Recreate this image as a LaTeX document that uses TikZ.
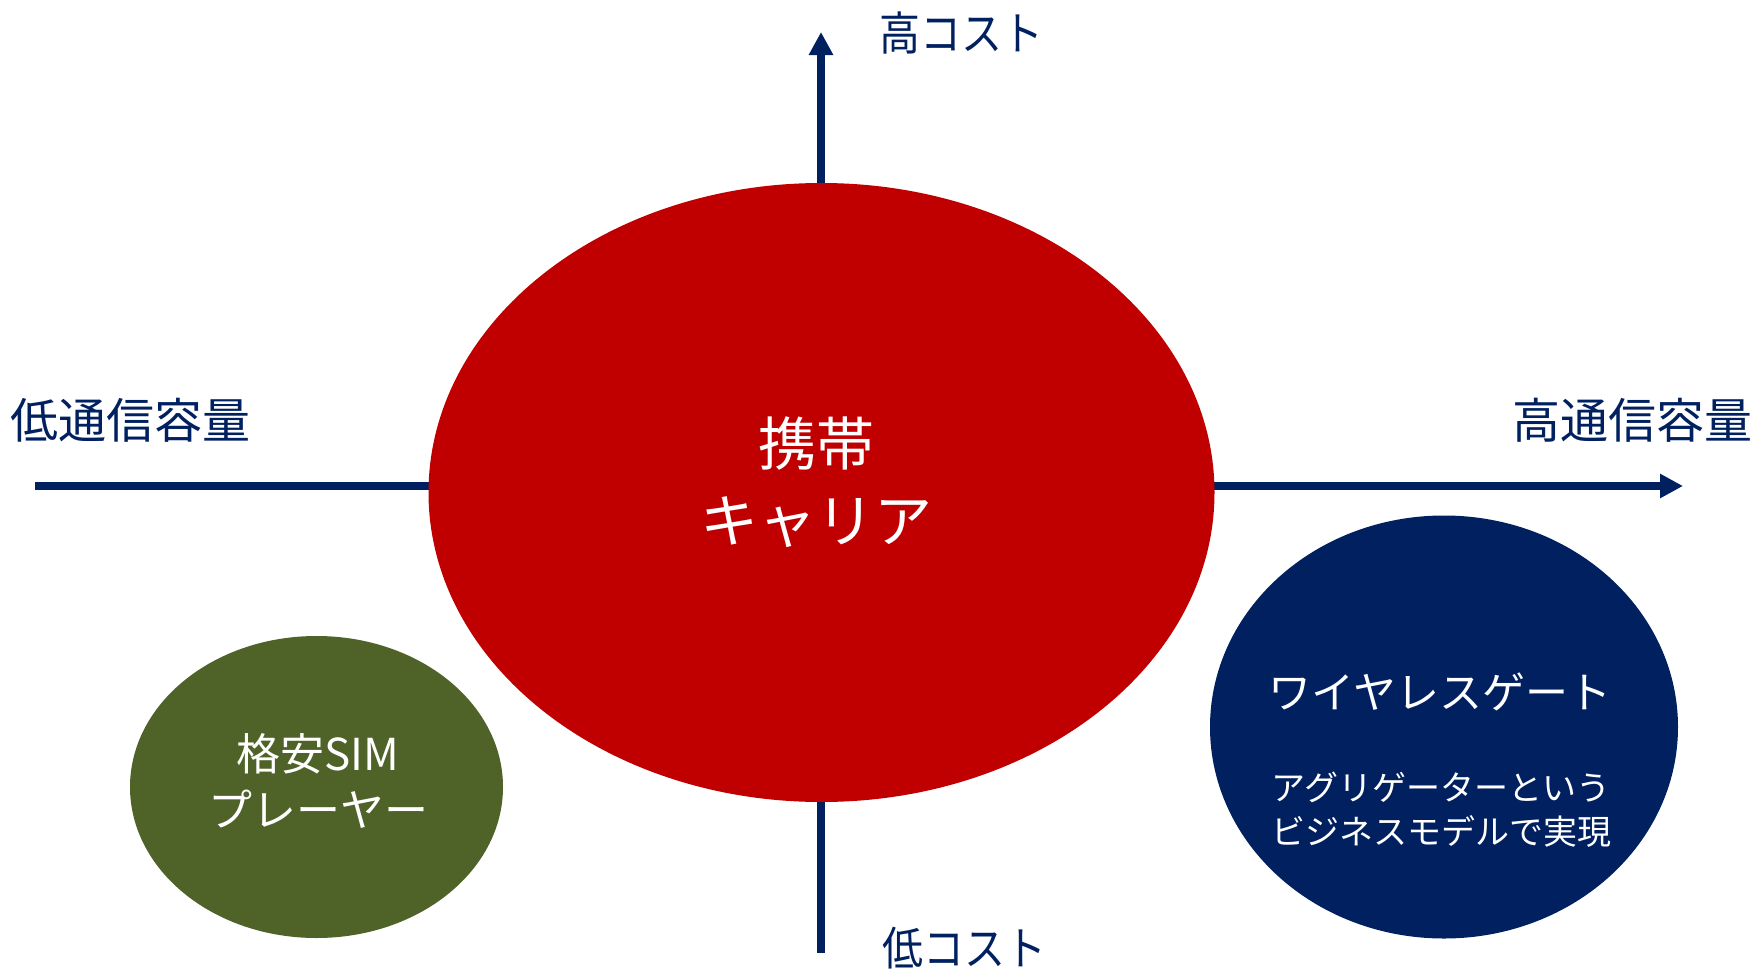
\documentclass[tikz,border=0pt]{standalone}
\usepackage{fontspec}
\setmainfont{Noto Sans CJK JP}
\usetikzlibrary{arrows.meta,shapes.geometric}
\definecolor{navy}{HTML}{002060}
\definecolor{carrierred}{HTML}{C00000}
\definecolor{olive}{HTML}{4F6228}
\tikzset{
  axisline/.style={draw=navy, line width=8.5pt},
  axistip/.style={-{Triangle[length=23pt 0 0,width=23pt 0 0]}},
  blob/.style={ellipse, draw=none, inner sep=0pt, text=white, align=center},
  axislabel/.style={text=navy, inner sep=0pt, anchor=west},
}
\begin{document}
\begin{tikzpicture}[x=1pt,y=-1pt]
\useasboundingbox (0,0) rectangle (1754,969);
% axis end points
\coordinate (xL) at (35,486);
\coordinate (xR) at (1683,486);
\coordinate (yT) at (821,32);
\coordinate (yB) at (821,953);
\coordinate (yM) at (821,486);
% axes
\draw[axisline] (xL) -- (yM);
\draw[axisline, axistip] (yM) -- (xR);
\draw[axisline, axistip] (yM) -- (yT);
\draw[axisline] (yM) -- (yB);
% ellipses
\node[blob, fill=carrierred, minimum width=786pt, minimum height=619pt] (carrier) at (821.5,492.5) {};
\node[blob, fill=olive, minimum width=373pt, minimum height=302pt] (mvno) at (316.5,787) {};
\node[blob, fill=navy, minimum width=468pt, minimum height=423pt] (wg) at (1444,727) {};
% texts in ellipses
\node[text=white, align=center, font=\fontsize{58pt}{77pt}\selectfont] (carriertext) at (816,482) {携帯\\キャリア};
\node[text=white, align=center, font=\fontsize{44pt}{56pt}\selectfont] (mvnotext) at (318,781) {格安SIM\\プレーヤー};
\node[text=white, font=\fontsize{43pt}{50pt}\selectfont] (wgtitle) at (1440,692) {ワイヤレスゲート};
\node[text=white, align=center, font=\fontsize{34pt}{44pt}\selectfont] (wgbody) at (1441,810) {アグリゲーターという\\ビジネスモデルで実現};
% axis labels
\node[axislabel, font=\fontsize{48pt}{48pt}\selectfont] (lowcap) at (10,420) {低通信容量};
\node[axislabel, font=\fontsize{48pt}{48pt}\selectfont] (highcap) at (1512,420) {高通信容量};
\node[axislabel, font=\fontsize{46pt}{46pt}\selectfont, transform shape, xscale=0.89] (highcost) at (879,33) {高コスト};
\node[axislabel, font=\fontsize{46pt}{46pt}\selectfont, transform shape, xscale=0.89] (lowcost) at (882,948) {低コスト};
\end{tikzpicture}
\end{document}
